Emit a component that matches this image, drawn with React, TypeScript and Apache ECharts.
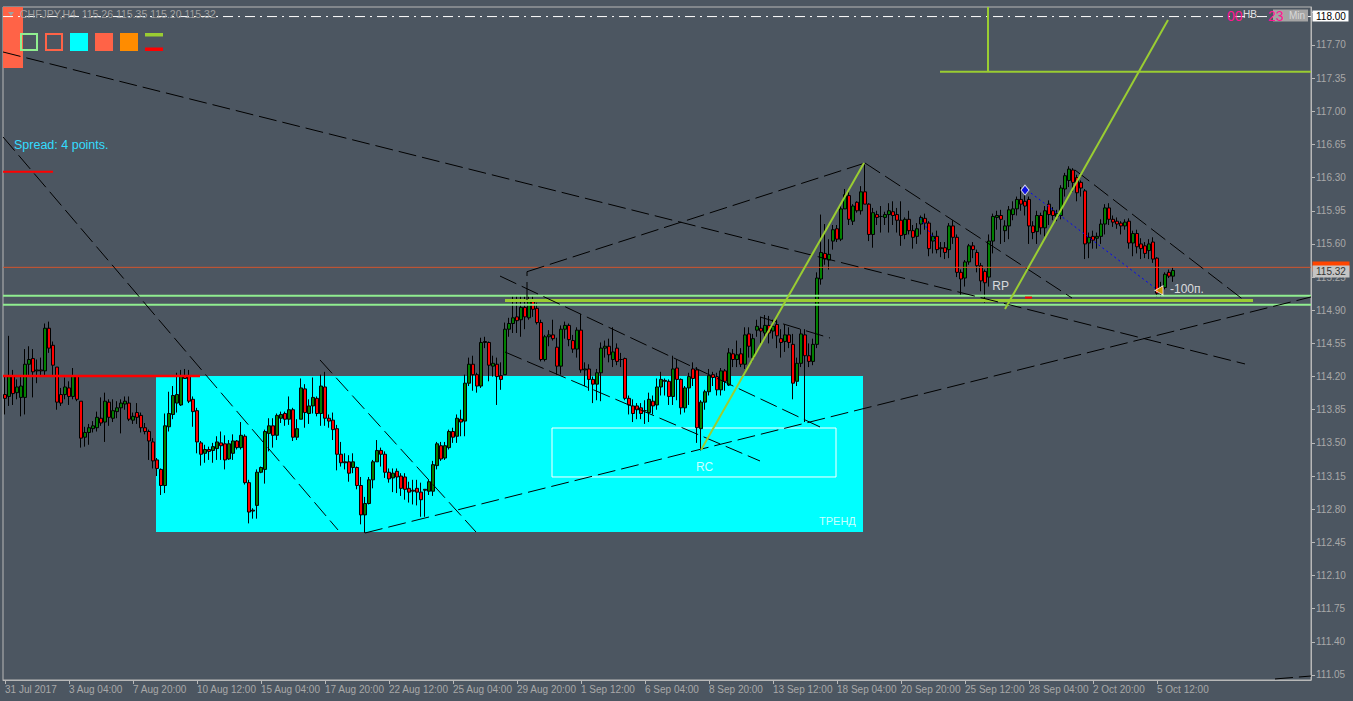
import React, { useEffect, useRef } from 'react';
import * as echarts from 'echarts';

// ---------- axes ----------
const BAR_SLOTS = 327; // visible H4 bar slots (data + empty right margin)
const X_LABEL_STEP = 16;
const X_LABELS = [
  '31 Jul 2017', '3 Aug 04:00', '7 Aug 20:00', '10 Aug 12:00', '15 Aug 04:00', '17 Aug 20:00',
  '22 Aug 12:00', '25 Aug 04:00', '29 Aug 20:00', '1 Sep 12:00', '6 Sep 04:00', '8 Sep 20:00',
  '13 Sep 12:00', '18 Sep 04:00', '20 Sep 20:00', '25 Sep 12:00', '28 Sep 04:00', '2 Oct 20:00', '5 Oct 12:00',
];
const Y_MIN = 110.997;
const Y_MAX = 118.101;
const Y_TICKS = [
  111.05, 111.4, 111.75, 112.1, 112.45, 112.8, 113.15, 113.5, 113.85, 114.2, 114.55,
  114.9, 115.25, 115.6, 115.95, 116.3, 116.65, 117.0, 117.35, 117.7, 118.05,
];
// 118.05 sits under the 118.00 price box, so only its tick mark is drawn
const Y_TICK_LABELS = Y_TICKS.filter((v) => v < 118);

// ---------- candles: [open, close, low, high] ----------
const CANDLES_JUL_AUG: number[][] = [
  [114.01, 113.97, 113.80, 114.20], [113.99, 114.20, 113.89, 114.63], [114.20, 114.02, 113.90, 114.27],
  [114.03, 114.09, 113.96, 114.17], [113.98, 114.10, 113.78, 114.20], [113.98, 114.33, 113.80, 114.49],
  [114.33, 114.38, 114.20, 114.52], [114.39, 114.25, 113.98, 114.49], [114.26, 114.27, 114.13, 114.38],
  [114.27, 114.26, 114.20, 114.40], [114.26, 114.71, 114.20, 114.76], [114.71, 114.50, 114.45, 114.78],
  [114.53, 114.32, 114.20, 114.57], [114.30, 113.93, 113.85, 114.30], [114.01, 113.92, 113.89, 114.08],
  [114.01, 114.09, 113.96, 114.19], [114.08, 113.99, 113.90, 114.15], [113.99, 114.20, 113.96, 114.29],
  [114.20, 113.96, 113.94, 114.20], [113.94, 113.55, 113.45, 113.94], [113.56, 113.61, 113.46, 113.67],
  [113.61, 113.66, 113.48, 113.70], [113.65, 113.68, 113.61, 113.73], [113.66, 113.77, 113.62, 113.83],
  [113.76, 113.71, 113.68, 113.98], [113.72, 113.94, 113.51, 114.03], [113.93, 113.77, 113.68, 113.96],
  [113.76, 113.84, 113.72, 113.96], [113.83, 113.87, 113.76, 113.94], [113.87, 113.92, 113.60, 113.96],
  [113.91, 113.94, 113.85, 113.99], [113.92, 113.75, 113.73, 113.99], [113.74, 113.78, 113.70, 113.82],
  [113.82, 113.77, 113.70, 113.92], [113.79, 113.66, 113.61, 113.82], [113.66, 113.62, 113.59, 113.71],
  [113.62, 113.52, 113.32, 113.64], [113.51, 113.31, 113.23, 113.55], [113.32, 113.23, 113.15, 113.34],
  [113.22, 113.05, 112.95, 113.23], [113.05, 113.68, 112.97, 113.81], [113.67, 113.81, 113.62, 114.04],
  [113.80, 114.00, 113.75, 114.10], [113.92, 114.01, 113.82, 114.24], [113.90, 114.20, 113.89, 114.27],
  [114.20, 114.18, 114.18, 114.28], [114.20, 113.94, 113.92, 114.27], [113.96, 113.83, 113.67, 113.99],
  [113.84, 113.51, 113.39, 113.87], [113.50, 113.38, 113.26, 113.52],
];
const CANDLES_AUG_MID: number[][] = [
  [113.39, 113.43, 113.29, 113.48], [113.43, 113.41, 113.32, 113.46], [113.42, 113.46, 113.29, 113.50],
  [113.44, 113.51, 113.32, 113.57], [113.50, 113.47, 113.32, 113.62], [113.49, 113.32, 113.22, 113.58],
  [113.33, 113.49, 113.32, 113.53], [113.39, 113.52, 113.32, 113.59], [113.52, 113.45, 113.43, 113.53],
  [113.45, 113.58, 113.43, 113.72], [113.57, 113.08, 113.06, 113.59], [113.08, 112.77, 112.65, 113.11],
  [112.79, 112.78, 112.70, 112.81], [112.84, 113.19, 112.70, 113.22], [113.19, 113.24, 113.18, 113.25],
  [113.22, 113.62, 113.07, 113.64], [113.60, 113.68, 113.41, 113.76], [113.68, 113.58, 113.45, 113.76],
  [113.58, 113.79, 113.53, 113.81], [113.76, 113.80, 113.71, 113.83], [113.81, 113.75, 113.68, 113.83],
  [113.75, 113.85, 113.69, 113.99], [113.85, 113.56, 113.52, 113.87], [113.56, 113.65, 113.53, 113.75],
  [113.75, 114.08, 113.75, 114.18], [114.07, 113.82, 113.66, 114.12], [113.81, 113.89, 113.70, 113.96],
  [113.89, 113.98, 113.81, 114.19], [113.97, 113.81, 113.78, 113.99], [113.81, 114.10, 113.68, 114.22],
  [114.09, 113.76, 113.68, 114.25], [113.76, 113.73, 113.66, 113.80], [113.74, 113.64, 113.53, 113.82],
  [113.65, 113.38, 113.21, 113.69], [113.38, 113.29, 113.25, 113.51], [113.30, 113.29, 113.22, 113.39],
  [113.30, 113.18, 113.09, 113.37], [113.24, 113.30, 113.18, 113.39], [113.24, 113.05, 113.01, 113.25],
  [113.05, 112.74, 112.64, 113.14], [112.74, 112.86, 112.55, 112.93], [112.86, 113.11, 112.85, 113.14],
  [113.11, 113.30, 113.02, 113.32], [113.30, 113.42, 113.30, 113.53], [113.42, 113.38, 113.25, 113.45],
  [113.38, 113.19, 113.13, 113.41], [113.19, 113.12, 113.08, 113.23], [113.13, 113.18, 112.98, 113.23],
  [113.20, 113.14, 112.97, 113.23], [113.15, 113.02, 112.94, 113.18],
];
const CANDLES_AUG_END: number[][] = [
  [113.14, 113.01, 112.90, 113.18], [113.02, 112.98, 112.87, 113.09], [113.00, 112.99, 112.85, 113.11],
  [113.02, 112.98, 112.84, 113.11], [112.98, 112.90, 112.72, 113.08], [113.01, 113.00, 112.72, 113.01],
  [112.99, 113.09, 112.95, 113.11], [112.99, 113.27, 112.94, 113.31], [113.26, 113.49, 113.22, 113.51],
  [113.47, 113.33, 113.31, 113.51], [113.34, 113.47, 113.32, 113.51], [113.45, 113.62, 113.43, 113.64],
  [113.62, 113.56, 113.50, 113.66], [113.57, 113.76, 113.50, 113.80], [113.75, 113.72, 113.57, 113.85],
  [113.73, 114.13, 113.57, 114.22], [114.13, 114.33, 114.10, 114.40], [114.33, 114.22, 114.05, 114.42],
  [114.22, 114.10, 114.03, 114.24], [114.10, 114.56, 114.08, 114.61], [114.56, 114.57, 114.50, 114.62],
  [114.56, 114.32, 114.15, 114.57], [114.31, 114.34, 114.20, 114.42], [114.33, 114.20, 113.90, 114.40],
  [114.21, 114.17, 114.06, 114.35], [114.22, 114.70, 114.22, 114.77], [114.70, 114.76, 114.62, 114.82],
  [114.76, 114.82, 114.66, 115.05], [114.83, 114.79, 114.66, 115.05], [114.80, 114.93, 114.62, 115.05],
  [114.93, 114.83, 114.70, 115.05], [114.82, 115.00, 114.80, 115.05], [115.00, 114.91, 114.83, 115.05],
  [114.92, 114.77, 114.75, 114.98], [114.77, 114.38, 114.36, 114.80], [114.38, 114.62, 114.36, 114.64],
  [114.62, 114.64, 114.52, 114.69], [114.64, 114.60, 114.58, 114.80], [114.51, 114.31, 114.22, 114.61],
  [114.31, 114.70, 114.22, 114.74], [114.70, 114.74, 114.60, 114.78], [114.74, 114.59, 114.52, 114.76],
  [114.58, 114.49, 114.45, 114.64], [114.49, 114.69, 114.40, 114.72], [114.69, 114.27, 114.24, 114.86],
  [114.27, 114.28, 114.10, 114.35], [114.28, 114.17, 114.05, 114.33], [114.17, 114.12, 113.92, 114.20],
  [114.12, 114.24, 113.95, 114.28], [114.24, 114.50, 113.94, 114.56],
];
const CANDLES_SEP_EARLY: number[][] = [
  [114.50, 114.52, 114.40, 114.58], [114.52, 114.43, 114.35, 114.60], [114.38, 114.46, 114.30, 114.72],
  [114.50, 114.36, 114.32, 114.55], [114.38, 114.38, 114.30, 114.45], [114.39, 113.97, 113.95, 114.40],
  [113.97, 113.90, 113.80, 114.00], [113.89, 113.81, 113.72, 113.96], [113.89, 113.85, 113.75, 113.92],
  [113.87, 113.81, 113.75, 113.92], [113.84, 113.84, 113.70, 113.95], [113.82, 113.96, 113.72, 114.03],
  [113.94, 113.89, 113.80, 114.00], [113.90, 114.09, 113.85, 114.18], [114.09, 114.17, 114.00, 114.25],
  [114.16, 114.15, 114.00, 114.18], [114.15, 113.99, 113.90, 114.17], [113.99, 114.28, 113.90, 114.42],
  [114.29, 114.17, 113.95, 114.38], [114.17, 113.87, 113.80, 114.18], [113.87, 114.08, 113.82, 114.10],
  [114.08, 114.20, 113.90, 114.24], [114.28, 114.18, 114.10, 114.35], [114.27, 113.66, 113.50, 114.30],
  [113.65, 113.93, 113.42, 113.95], [113.93, 114.04, 113.85, 114.06], [114.04, 114.21, 114.00, 114.28],
  [114.22, 114.19, 114.10, 114.25], [114.20, 114.06, 114.00, 114.24], [114.06, 114.26, 114.00, 114.29],
  [114.26, 114.15, 114.05, 114.28], [114.11, 114.45, 114.10, 114.50], [114.44, 114.38, 114.30, 114.49],
  [114.38, 114.43, 114.30, 114.58], [114.44, 114.33, 114.30, 114.50], [114.33, 114.64, 114.28, 114.72],
  [114.65, 114.52, 114.40, 114.72], [114.40, 114.60, 114.36, 114.65], [114.69, 114.73, 114.62, 114.80],
  [114.71, 114.68, 114.55, 114.83], [114.66, 114.74, 114.60, 114.85], [114.74, 114.66, 114.55, 114.84],
  [114.68, 114.73, 114.60, 114.80], [114.75, 114.63, 114.50, 114.80], [114.60, 114.56, 114.40, 114.70],
  [114.57, 114.64, 114.46, 114.75], [114.64, 114.56, 114.50, 114.72], [114.54, 114.13, 113.96, 114.65],
  [114.15, 114.34, 114.10, 114.40], [114.34, 114.65, 114.30, 114.70],
];
const CANDLES_SEP_MID: number[][] = [
  [114.64, 114.42, 113.72, 114.70], [114.42, 114.36, 114.30, 114.55], [114.36, 114.54, 114.32, 114.60],
  [114.54, 115.24, 114.50, 115.30], [115.23, 115.51, 115.17, 115.91], [115.50, 115.44, 115.38, 115.81],
  [115.43, 115.49, 115.33, 115.65], [115.63, 115.75, 115.54, 115.80], [115.76, 115.65, 115.62, 115.80],
  [115.65, 115.97, 115.63, 116.02], [115.97, 116.12, 115.97, 116.18], [116.11, 115.86, 115.80, 116.16],
  [115.84, 116.00, 115.80, 116.02], [116.04, 115.95, 115.93, 116.05], [115.95, 116.15, 115.91, 116.21],
  [116.15, 116.02, 116.02, 116.44], [116.02, 115.70, 115.63, 116.03], [115.70, 115.93, 115.56, 115.98],
  [115.91, 115.88, 115.80, 115.95], [115.89, 115.89, 115.72, 116.00], [115.88, 115.91, 115.80, 115.94],
  [115.91, 115.95, 115.72, 116.03], [115.94, 115.90, 115.80, 116.05], [115.91, 115.85, 115.72, 115.98],
  [115.85, 115.69, 115.58, 116.05], [115.70, 115.86, 115.65, 115.88], [115.86, 115.74, 115.70, 115.95],
  [115.74, 115.67, 115.55, 115.80], [115.68, 115.76, 115.60, 115.82], [115.81, 115.88, 115.70, 115.90],
  [115.87, 115.82, 115.75, 115.92], [115.82, 115.55, 115.47, 115.84], [115.63, 115.68, 115.50, 115.72],
  [115.68, 115.54, 115.50, 115.74], [115.56, 115.55, 115.46, 115.62], [115.56, 115.51, 115.44, 115.62],
  [115.54, 115.79, 115.45, 115.82], [115.79, 115.67, 115.60, 115.85], [115.67, 115.30, 115.25, 115.70],
  [115.30, 115.23, 115.05, 115.33], [115.24, 115.41, 115.15, 115.43], [115.41, 115.58, 115.38, 115.60],
  [115.58, 115.54, 115.45, 115.62], [115.51, 115.37, 115.30, 115.54], [115.37, 115.21, 115.10, 115.40],
  [115.31, 115.19, 114.98, 115.33], [115.25, 115.63, 115.15, 115.70], [115.63, 115.89, 115.50, 115.92],
  [115.88, 115.90, 115.75, 115.95], [115.90, 115.86, 115.60, 115.96],
];
const CANDLES_SEP_OCT: number[][] = [
  [115.74, 115.79, 115.62, 115.85], [115.79, 115.96, 115.65, 116.00], [115.91, 115.97, 115.85, 116.05],
  [115.97, 116.07, 115.90, 116.10], [116.07, 116.02, 115.95, 116.20], [116.05, 116.00, 115.90, 116.12],
  [116.07, 115.79, 115.60, 116.10], [115.79, 115.72, 115.65, 115.84], [115.73, 115.90, 115.60, 115.95],
  [115.90, 115.77, 115.70, 115.93], [115.77, 115.95, 115.68, 116.00], [116.02, 115.91, 115.80, 116.06],
  [115.95, 115.90, 115.85, 115.99], [115.89, 115.92, 115.84, 115.96], [115.90, 116.19, 115.86, 116.22],
  [116.18, 116.32, 116.10, 116.35], [116.27, 116.39, 116.20, 116.42], [116.38, 116.25, 116.15, 116.40],
  [116.30, 116.14, 116.05, 116.33], [116.25, 116.19, 116.10, 116.27], [116.16, 115.60, 115.44, 116.18],
  [115.61, 115.67, 115.45, 115.72], [115.68, 115.64, 115.55, 115.74], [115.66, 115.68, 115.55, 115.72],
  [115.68, 115.81, 115.60, 115.86], [115.81, 115.98, 115.70, 116.02], [115.98, 115.86, 115.80, 116.03],
  [115.86, 115.83, 115.78, 115.90], [115.84, 115.81, 115.76, 115.88], [115.82, 115.79, 115.70, 115.84],
  [115.79, 115.83, 115.75, 115.86], [115.84, 115.61, 115.55, 115.87], [115.61, 115.71, 115.47, 115.74],
  [115.71, 115.57, 115.50, 115.75], [115.60, 115.55, 115.44, 115.66], [115.58, 115.50, 115.45, 115.62],
  [115.53, 115.60, 115.44, 115.65], [115.62, 115.44, 115.40, 115.67], [115.45, 115.08, 115.04, 115.46],
  [115.08, 115.14, 115.04, 115.20], [115.14, 115.28, 115.12, 115.30], [115.30, 115.26, 115.24, 115.33],
  [115.26, 115.32, 115.20, 115.35],
];

// ---------- drawn objects, in (bar index, price) ----------
const DASHED_LINES: number[][][] = [
  [[-0.5, 117.626], [310, 114.333]],
  [[-0.5, 116.729], [83.25, 112.581]],
  [[78.75, 114.375], [117.75, 112.559]],
  [[90, 112.549], [326.5, 115.04]],
  [[123.75, 115.261], [203.75, 113.668]],
  [[125, 114.459], [188.75, 113.309]],
  [[130.5, 115.008], [130.5, 115.307]],
  [[130.5, 115.307], [215, 116.454]],
  [[215, 116.454], [266.75, 115.029]],
  [[267.5, 116.38], [310, 114.998]],
  [[188.75, 114.829], [206.25, 114.607]],
  [[317.5, 111.008], [326.5, 111.039]],
];
const TREND_LINES_YG: number[][][] = [
  [[174, 113.425], [214.75, 116.454]],
  [[250, 114.913], [290.75, 117.964]],
  [[245.75, 118.101], [245.75, 117.418]],
  [[233.75, 117.418], [326.5, 117.418]],
];
const LEVEL_OLIVE = [[125, 115.003], [312, 115.003]];
const LEVEL_LIGHT_TOP = [[-0.5, 115.053], [326.5, 115.053]];
const LEVEL_LIGHT_BOTTOM = [[-0.5, 114.958], [326.5, 114.958]];
const LEVEL_RED = [[-0.5, 114.206], [48.75, 114.206]];
const LEVEL_RED_TICK = [[255, 115.034], [256.75, 115.034]];
const ASK_LINE = [[-0.5, 115.353], [326.5, 115.353]];
const LEVEL_118 = [[-0.5, 118.0], [326.5, 118.0]];
const BLUE_PATH_1 = [[255.5, 116.169], [287.5, 115.135]];
const BLUE_PATH_2 = [[228.75, 115.874], [233, 115.61]];
const TREND_BOX = [[37.75, 114.206], [214.5, 112.559]];
const RC_BOX = [[136.75, 113.657], [207.75, 113.14]];
const ARROW_START = [255, 116.169];
const ARROW_END = [288.5, 115.11];
const NOTES = [
  { text: 'RP', at: [248.9, 115.156], pos: 'inside', size: 12 },
  { text: '-100п.', at: [291.25, 115.12], pos: 'right', size: 12 },
  { text: 'RC', at: [174.9, 113.25], pos: 'inside', size: 12 },
  { text: 'ТРЕНД', at: [208.1, 112.68], pos: 'inside', size: 11 },
];

const FONT = '"Liberation Sans", Arial, sans-serif';
const BG = '#4C5661';
const FRAME = '#B8B8B8';
const AXIS_TEXT = '#A8A8A8';

function lineSeries(pts: number[][], color: string, width: number, type: any, z = 3) {
  return {
    type: 'line',
    xAxisIndex: 1,
    yAxisIndex: 0,
    data: pts,
    symbol: 'none',
    silent: true,
    clip: true,
    lineStyle: { color, width, type },
    z,
  };
}

export default function App() {
  const ref = useRef<HTMLDivElement>(null);

  useEffect(() => {
    if (!ref.current) return;
    const chart = echarts.init(ref.current, undefined, { renderer: 'svg' });
    const candles = [
      ...CANDLES_JUL_AUG, ...CANDLES_AUG_MID, ...CANDLES_AUG_END,
      ...CANDLES_SEP_EARLY, ...CANDLES_SEP_MID, ...CANDLES_SEP_OCT,
    ];
    const categories = Array.from({ length: BAR_SLOTS }, (_, i) => String(i));
    const showLabel = (i: number) => i % X_LABEL_STEP === 0 && i / X_LABEL_STEP < X_LABELS.length;

    const series: any[] = [
      {
        type: 'line', xAxisIndex: 1, data: [TREND_BOX[0]], symbol: 'none', silent: true,
        lineStyle: { opacity: 0 },
        markArea: {
          silent: true,
          itemStyle: { color: '#00FFFF', opacity: 1 },
          data: [[{ coord: TREND_BOX[0] }, { coord: TREND_BOX[1] }]],
        },
        z: 1,
      },
      {
        type: 'line', xAxisIndex: 1, data: [RC_BOX[0]], symbol: 'none', silent: true,
        lineStyle: { opacity: 0 },
        markArea: {
          silent: true,
          itemStyle: { color: 'rgba(0,0,0,0)', borderColor: '#FFFFFF', borderWidth: 1 },
          data: [[{ coord: RC_BOX[0] }, { coord: RC_BOX[1] }]],
        },
        z: 1,
      },
      {
        type: 'candlestick',
        xAxisIndex: 0,
        yAxisIndex: 0,
        data: candles,
        barWidth: 3,
        silent: true,
        itemStyle: {
          color: '#008000', color0: '#FF0000',
          borderColor: '#000000', borderColor0: '#000000', borderWidth: 1,
        },
        z: 2,
      },
      lineSeries(ASK_LINE, '#D2552D', 1, 'solid'),
      lineSeries(LEVEL_118, '#FFFFFF', 1, [10, 5, 2, 5]),
      lineSeries(LEVEL_LIGHT_TOP, '#90EE90', 2, 'solid'),
      lineSeries(LEVEL_LIGHT_BOTTOM, '#90EE90', 2, 'solid'),
      lineSeries(LEVEL_OLIVE, '#9ACD32', 3, 'solid'),
      lineSeries(LEVEL_RED, '#FF0000', 2.5, 'solid'),
      lineSeries(LEVEL_RED_TICK, '#FF0000', 2, 'solid'),
      ...DASHED_LINES.map((l) => lineSeries(l, '#000000', 1, [18, 6])),
      ...TREND_LINES_YG.map((l) => lineSeries(l, '#9ACD32', 2, 'solid', 4)),
      lineSeries(BLUE_PATH_1, '#0000FF', 1, [2, 3]),
      lineSeries(BLUE_PATH_2, '#0000FF', 1, [2, 3]),
      {
        type: 'scatter', xAxisIndex: 1, silent: true, z: 6,
        data: [ARROW_START],
        symbol: 'diamond', symbolSize: [8, 10],
        itemStyle: { color: '#0000FF', borderColor: '#FFFFFF', borderWidth: 1 },
      },
      {
        type: 'scatter', xAxisIndex: 1, silent: true, z: 6,
        data: [ARROW_END],
        symbol: 'triangle', symbolRotate: 90, symbolSize: [9, 8],
        itemStyle: { color: '#FFA500', borderColor: '#FFFFFF', borderWidth: 1 },
      },
      ...NOTES.map((n) => ({
        type: 'scatter', xAxisIndex: 1, silent: true, z: 7,
        data: [n.at], symbolSize: 0,
        label: {
          show: true, formatter: n.text, position: n.pos, distance: 0,
          color: '#FFFFFF', fontSize: n.size, fontFamily: FONT,
        },
      })),
    ];

    const txt = (text: string, x: number, y: number, fill: string, size: number, z = 100) => ({
      type: 'text', x, y, z,
      style: {
        text, fill, font: `${size}px ${FONT}`,
        textVerticalAlign: 'middle', verticalAlign: 'middle',
      },
    });

    const graphics: any[] = [
      { type: 'rect', shape: { x: 3, y: 7, width: 20, height: 61 }, style: { fill: '#FF6347' }, z: 0 },
      { type: 'polygon', shape: { points: [[8, 12], [14, 12], [11, 16]] }, style: { fill: '#A0A0A0' }, z: 100 },
      txt('CHFJPY,H4  115.26 115.35 115.20 115.32', 20, 14, '#A0A0A0', 10.5),
      { type: 'rect', shape: { x: 21, y: 34, width: 16, height: 16 }, style: { fill: 'none', stroke: '#90EE90', lineWidth: 2 }, z: 100 },
      { type: 'rect', shape: { x: 46, y: 34, width: 16, height: 16 }, style: { fill: 'none', stroke: '#FF6347', lineWidth: 2 }, z: 100 },
      { type: 'rect', shape: { x: 70, y: 33, width: 18, height: 18 }, style: { fill: '#00FFFF' }, z: 100 },
      { type: 'rect', shape: { x: 95, y: 33, width: 18, height: 18 }, style: { fill: '#FF6347' }, z: 100 },
      { type: 'rect', shape: { x: 120, y: 33, width: 18, height: 18 }, style: { fill: '#FF8C00' }, z: 100 },
      { type: 'rect', shape: { x: 145, y: 33, width: 18, height: 3.5 }, style: { fill: '#9ACD32' }, z: 100 },
      { type: 'rect', shape: { x: 145, y: 47.5, width: 18, height: 3.5 }, style: { fill: '#FF0000' }, z: 100 },
      txt('Spread: 4 points.', 14, 145, '#33DDFF', 12.5),
      { type: 'rect', shape: { x: 3, y: 170.8, width: 50, height: 2 }, style: { fill: '#FF0000' }, z: 100 },
      txt('00', 1227, 16, '#FF1493', 14),
      txt('HB', 1243, 14, '#E0E0E0', 10),
      { type: 'rect', shape: { x: 1273, y: 9.5, width: 35, height: 12 }, style: { fill: '#A4A4A4' }, z: 99 },
      txt('23', 1268, 16, '#FF1493', 14),
      txt('Min', 1289, 15, '#D8D8D8', 10),
      { type: 'rect', shape: { x: 1312.5, y: 10.5, width: 36, height: 11 }, style: { fill: '#FFFFFF' }, z: 100 },
      txt('118.00', 1316, 16.2, '#000000', 10, 101),
      { type: 'rect', shape: { x: 1312.5, y: 261.5, width: 37, height: 10 }, style: { fill: '#FF4500' }, z: 100 },
      { type: 'rect', shape: { x: 1312.5, y: 265.5, width: 37, height: 12 }, style: { fill: '#C4C4C4' }, z: 101 },
      txt('115.32', 1316, 271.6, '#333333', 10, 102),
    ];

    chart.setOption({
      animation: false,
      backgroundColor: BG,
      grid: { left: 3, right: 42, top: 7, bottom: 21, show: true, borderColor: FRAME, borderWidth: 1, backgroundColor: 'transparent' },
      xAxis: [
        {
          type: 'category',
          data: categories,
          boundaryGap: true,
          axisLine: { show: true, lineStyle: { color: FRAME, width: 1 } },
          axisTick: { show: true, alignWithLabel: true, length: 4, interval: (i: number) => showLabel(i), lineStyle: { color: FRAME } },
          axisLabel: {
            show: true,
            interval: (i: number) => showLabel(i),
            formatter: (_v: string, i: number) => X_LABELS[i / X_LABEL_STEP] ?? '',
            align: 'left', margin: 4, color: AXIS_TEXT, fontSize: 10, fontFamily: FONT,
          },
          splitLine: { show: false },
        },
        { type: 'value', min: -0.5, max: BAR_SLOTS - 0.5, show: false },
      ],
      yAxis: {
        type: 'value',
        position: 'right',
        min: Y_MIN,
        max: Y_MAX,
        scale: true,
        axisLine: { show: true, onZero: false, lineStyle: { color: FRAME, width: 1 } },
        axisTick: { show: true, length: 4, customValues: Y_TICKS, lineStyle: { color: FRAME } },
        axisLabel: {
          show: true, customValues: Y_TICK_LABELS, formatter: (v: number) => v.toFixed(2),
          color: AXIS_TEXT, fontSize: 10, fontFamily: FONT, margin: 5,
        },
        splitLine: { show: false },
      },
      graphic: graphics,
      series,
    });

    return () => chart.dispose();
  }, []);

  return (
    <div
      ref={ref}
      style={{ position: 'fixed', left: 0, top: 0, width: 1353, height: 701, background: BG }}
    />
  );
}
